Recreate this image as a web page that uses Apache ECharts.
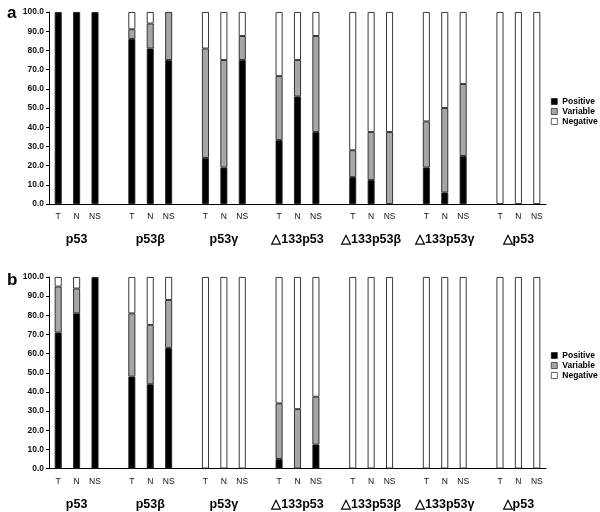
<!DOCTYPE html>
<html>
<head>
<meta charset="utf-8">
<script src="https://cdn.jsdelivr.net/npm/echarts@6/dist/echarts.min.js"></script>
<style>html,body{margin:0;padding:0;background:#fff}#c{width:600px;height:512px}</style>
</head>
<body>
<div id="c"></div>
<script>
// ---- data ----
var groups = ['p53', 'p53β', 'p53γ', '△133p53', '△133p53β', '△133p53γ', '△p53'];
var subLabels = ['T', 'N', 'NS'];
var seriesNames = ['Positive', 'Variable', 'Negative'];
var yTicks = [0, 10, 20, 30, 40, 50, 60, 70, 80, 90, 100];

// panel a (order: p53 T,N,NS, p53β T,N,NS, ...)
var aPositive = [100, 100, 100,  86, 81, 75,  24, 19, 75,  33.3, 56, 37.5,  14, 12.5, 0,  19, 6, 25,  0, 0, 0];
var aVariable = [0, 0, 0,        5, 13, 25,   57, 56, 12.5, 33.3, 19, 50,   14, 25, 37.5, 24, 44, 37.5, 0, 0, 0];
var aNegative = [0, 0, 0,        9, 6, 0,     19, 25, 12.5, 33.4, 25, 12.5, 72, 62.5, 62.5, 57, 50, 37.5, 100, 100, 100];

// panel b
var bPositive = [71, 81, 100,  48, 44, 63,  0, 0, 0,  5, 0, 12.5,  0, 0, 0,  0, 0, 0,  0, 0, 0];
var bVariable = [24, 13, 0,    33, 31, 25,  0, 0, 0,  29, 31, 25,  0, 0, 0,  0, 0, 0,  0, 0, 0];
var bNegative = [5, 6, 0,      19, 25, 12,  100, 100, 100,  66, 69, 62.5,  100, 100, 100,  100, 100, 100,  100, 100, 100];

// ---- build category axis with gaps between groups ----
var cats = [];
var catIndexOfBar = [];
groups.forEach(function (g, gi) {
  if (gi > 0) cats.push('gap' + gi);
  subLabels.forEach(function (s, si) {
    catIndexOfBar.push(cats.length);
    cats.push(g + '|' + s + '|' + si);
  });
});
function expand(arr) {
  var out = cats.map(function () { return null; });
  arr.forEach(function (v, i) { out[catIndexOfBar[i]] = v === 0 ? null : v; });
  return out;
}
function labelFmt(v) {
  if (v.indexOf('gap') === 0) return '';
  var p = v.split('|');
  if (p[2] === '1') return p[1] + '\n{g|' + p[0] + '}';
  return p[1];
}

var FONT = 'Liberation Sans, Arial, sans-serif';
var colors = ['#000000', '#a6a6a6', '#ffffff'];
var grids = [
  { left: 49, top: 12, width: 497, height: 192, outerBoundsMode: 'none', containLabel: false },
  { left: 49, top: 277, width: 497, height: 191.5, outerBoundsMode: 'none', containLabel: false }
];
var panelData = [[aPositive, aVariable, aNegative], [bPositive, bVariable, bNegative]];

var xAxes = [], yAxes = [], series = [];
[0, 1].forEach(function (k) {
  xAxes.push({
    type: 'category', gridIndex: k, data: cats,
    axisLine: { lineStyle: { color: '#000', width: 1 } },
    axisTick: { show: false },
    axisLabel: {
      interval: 0, margin: 7, color: '#111', fontSize: 8.5,
      fontFamily: FONT, lineHeight: 12,
      formatter: labelFmt,
      rich: { g: { fontSize: 12.5, fontWeight: 'bold', color: '#000', lineHeight: 34, fontFamily: FONT } }
    }
  });
  yAxes.push({
    type: 'value', gridIndex: k, min: yTicks[0], max: yTicks[yTicks.length - 1], interval: 10,
    axisLine: { show: true, lineStyle: { color: '#000', width: 1 } },
    axisTick: { show: true, length: 3, lineStyle: { color: '#000' } },
    splitLine: { show: false },
    axisLabel: {
      margin: 5, color: '#111', fontSize: 8.5, fontWeight: 'bold',
      fontFamily: FONT,
      formatter: function (v) { return v.toFixed(1); }
    }
  });
  seriesNames.forEach(function (n, si) {
    series.push({
      name: n, type: 'bar', stack: 'p' + k, xAxisIndex: k, yAxisIndex: k,
      barWidth: 7, data: expand(panelData[k][si]),
      itemStyle: { color: colors[si], borderColor: '#222', borderWidth: 0.9 },
      emphasis: { disabled: true }
    });
  });
});

function legendFor(top) {
  return {
    data: seriesNames, orient: 'vertical', left: 551, top: top, padding: 0,
    itemWidth: 6, itemHeight: 6, itemGap: 1,
    icon: 'rect', selectedMode: false,
    itemStyle: { borderWidth: 0.6, borderColor: '#000' },
    textStyle: { fontSize: 8.5, fontWeight: 'bold', color: '#000', lineHeight: 9, fontFamily: FONT }
  };
}

var chart = echarts.init(document.getElementById('c'), null, { renderer: 'canvas' });
chart.setOption({
  animation: false,
  backgroundColor: '#fff',
  title: [
    { text: 'a', left: 2, top: 0, textStyle: { fontSize: 17, fontWeight: 'bold', color: '#000', fontFamily: FONT } },
    { text: 'b', left: 2, top: 267, textStyle: { fontSize: 17, fontWeight: 'bold', color: '#000', fontFamily: FONT } }
  ],
  legend: [legendFor(97), legendFor(351)],
  grid: grids,
  xAxis: xAxes,
  yAxis: yAxes,
  series: series
});
</script>
</body>
</html>
